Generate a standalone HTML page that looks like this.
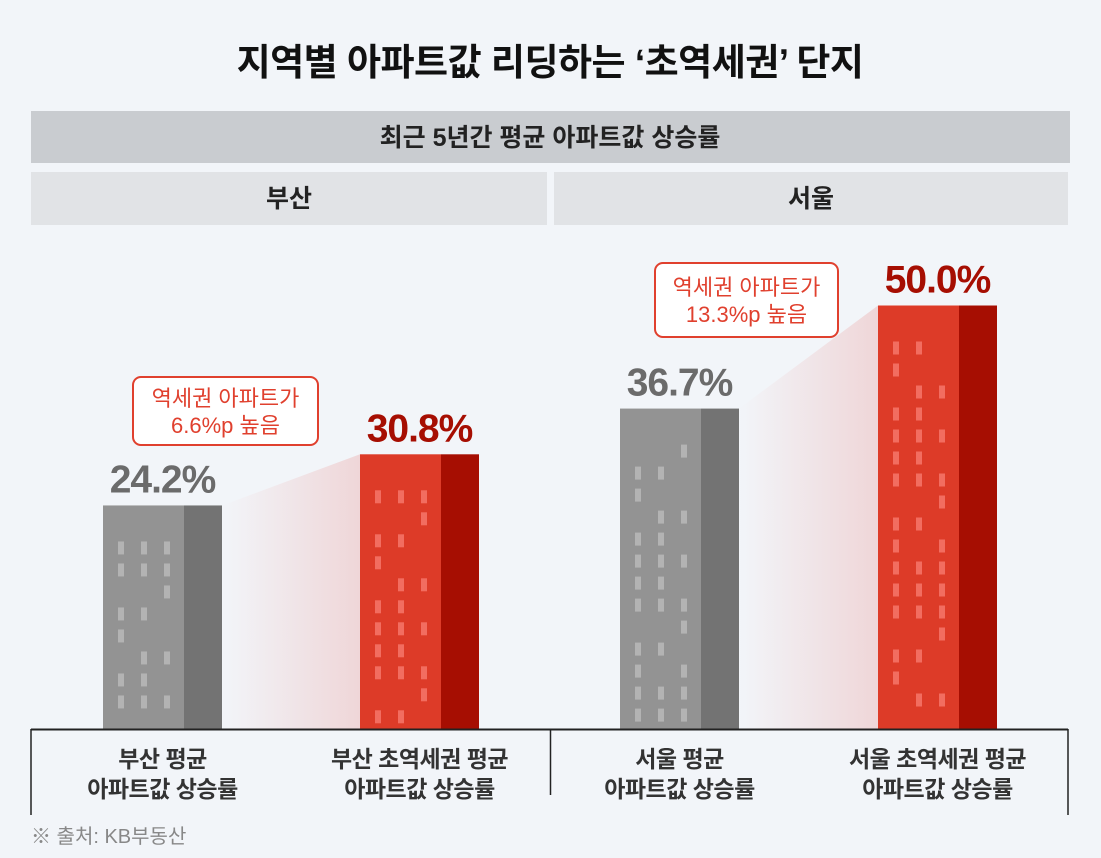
<!DOCTYPE html>
<html><head><meta charset="utf-8">
<style>
body{margin:0;width:1101px;height:858px;background:#f2f5f9;font-family:"Liberation Sans","Noto Sans CJK KR",sans-serif;overflow:hidden}
svg{display:block}
</style></head><body>
<svg id="chart" width="1101" height="858" viewBox="0 0 1101 858">
<defs>
<linearGradient id="wedge" x1="0" x2="1" y1="0" y2="0">
<stop offset="0" stop-color="#f2f5f9"/><stop offset="1" stop-color="#efd6d8"/>
</linearGradient>
</defs>
<text x="550" y="75" text-anchor="middle" font-size="37" font-weight="bold" fill="#111" letter-spacing="-0.5">지역별 아파트값 리딩하는 ‘초역세권’ 단지</text>
<rect x="31" y="111" width="1039" height="52" fill="#c9ccd0"/>
<text x="550" y="146" text-anchor="middle" font-size="25" font-weight="bold" fill="#222">최근 5년간 평균 아파트값 상승률</text>
<rect x="31" y="172" width="516" height="53" fill="#e1e3e6"/>
<text x="289" y="207" text-anchor="middle" font-size="25" font-weight="bold" fill="#222">부산</text>
<rect x="554" y="172" width="514" height="53" fill="#e1e3e6"/>
<text x="811" y="207" text-anchor="middle" font-size="25" font-weight="bold" fill="#222">서울</text>
<g id="marks"></g>
<line x1="31" y1="729.5" x2="1068" y2="729.5" stroke="#222" stroke-width="2"/>
<line x1="31" y1="729" x2="31" y2="815" stroke="#222" stroke-width="1.5"/>
<line x1="550.5" y1="729" x2="550.5" y2="795" stroke="#222" stroke-width="1.5"/>
<line x1="1068" y1="729" x2="1068" y2="815" stroke="#222" stroke-width="1.5"/>
<text x="31" y="843" font-size="20" fill="#888">※ 출처: KB부동산</text>
</svg>
<script>
const categories = ["부산 평균|아파트값 상승률","부산 초역세권 평균|아파트값 상승률","서울 평균|아파트값 상승률","서울 초역세권 평균|아파트값 상승률"];
const values = [24.2, 30.8, 36.7, 50.0];
const valueLabels = ["24.2%","30.8%","36.7%","50.0%"];
const calloutLines = [["역세권 아파트가","6.6%p 높음"],["역세권 아파트가","13.3%p 높음"]];

const NS="http://www.w3.org/2000/svg";
const g=document.getElementById('marks');
const baseY=729, pxPer=7.75, offset=36;
const barX=[103,360,620,878], barW=119;
function y(v){return baseY - offset - v*pxPer;}
function mk(t,a){const e=document.createElementNS(NS,t);for(const k in a)e.setAttribute(k,a[k]);g.appendChild(e);return e;}
const winPat=[[1,1,1],[1,1,1],[0,0,1],[1,1,0],[1,0,0],[0,1,1],[1,1,0],[1,1,1],[1,1,0],[1,1,1],[0,0,1],[1,1,0],[1,0,1],[1,1,1]];
for(let p=0;p<2;p++){
  const a=p*2,b=p*2+1;
  const x1=barX[a]+barW,x2=barX[b];
  const w=mk('polygon',{points:`${x1},${y(values[a])} ${x2},${y(values[b])} ${x2},${baseY} ${x1},${baseY}`,fill:'url(#wedge)'});
  
  
}
for(let i=0;i<values.length;i++){
  const red=i%2===1;
  const top=y(values[i]);
  const r1=mk('rect',{x:barX[i],y:top,width:81,height:baseY-top,fill:red?'#dd3b28':'#939393'});
  
  
  const r2=mk('rect',{x:barX[i]+81,y:top,width:barW-81,height:baseY-top,fill:red?'#a60e02':'#737373'});
  
  
  const h=baseY-top;
  const rows=Math.floor((h-30)/22);
  for(let r=0;r<rows;r++){for(let c=0;c<3;c++){
    if(!winPat[(r+i)%winPat.length][c])continue;
    const wdw=mk('rect',{x:barX[i]+15+c*23,y:top+36+r*22,width:6,height:13,fill:red?'#f26d60':'#b3b3b3'});
    
    
  }}
  const t=mk('text',{x:barX[i]+barW/2,y:top-13,'text-anchor':'middle','font-size':39,'font-weight':'bold',fill:red?'#a60e02':'#6b6b6b','letter-spacing':'-1'});
  t.textContent=valueLabels[i];
  
  
  const parts=categories[i].split('|');
  parts.forEach((s,k)=>{
    const l=mk('text',{x:barX[i]+barW/2,y:767+k*30,'text-anchor':'middle','font-size':23,'font-weight':'bold',fill:'#333','letter-spacing':'-0.5'});
    l.textContent=s;
    
    
  });
}
const callBoxes=[[133,377,185,68],[655,263,183,74]];
calloutLines.forEach((ls,k)=>{
  const [bx,by,bw,bh]=callBoxes[k];
  const r=mk('rect',{x:bx,y:by,width:bw,height:bh,rx:8,fill:'#fff',stroke:'#e0402e','stroke-width':2});
  
  
  ls.forEach((s,j)=>{
    const t=mk('text',{x:bx+bw/2,y:by+(bh/2)-5+j*27,'text-anchor':'middle','font-size':22,fill:'#e0402e'});
    t.textContent=s;
    
    
  });
});
</script>
</body></html>
